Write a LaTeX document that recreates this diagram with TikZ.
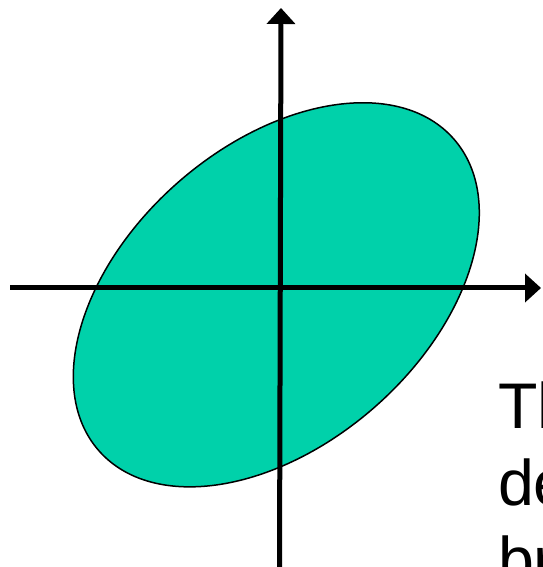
\documentclass[tikz,border=0pt]{standalone}
\usepackage{fontspec}
\setmainfont{Liberation Sans}
\usetikzlibrary{positioning}
\usetikzlibrary{arrows.meta}

\definecolor{blobgreen}{RGB}{0,209,170}

\tikzset{
  axis/.style={line width=5pt, -{Triangle[length=16pt,width=28pt]}},
  blob/.style={draw=black, fill=blobgreen, line width=1.5pt},
}

\begin{document}
\begin{tikzpicture}[x=1pt, y=1pt]

\useasboundingbox (0,0) rectangle (542,567);
\clip (0,0) rectangle (542,567);

% tilted ellipse
\coordinate (c) at (276.3,272.2);
\filldraw[blob, rotate around={41.3:(c)}] (c) ellipse [x radius=236.2, y radius=149.3];

% axes
\coordinate (xl) at (10,279);
\coordinate (xr) at (541,279);
\coordinate (yb) at (279.5,-5);
\coordinate (yt) at (281,559);

\draw[axis] (xl) -- (xr);
\draw[axis] (yb) -- (yt);

% text cut by the right edge (base = last line)
\node[anchor=base west, inner sep=0, align=left,
      font=\fontsize{64.5}{77}\selectfont] (txt) at (497.8,-15.5) {Th\\de\\br};

\end{tikzpicture}
\end{document}
